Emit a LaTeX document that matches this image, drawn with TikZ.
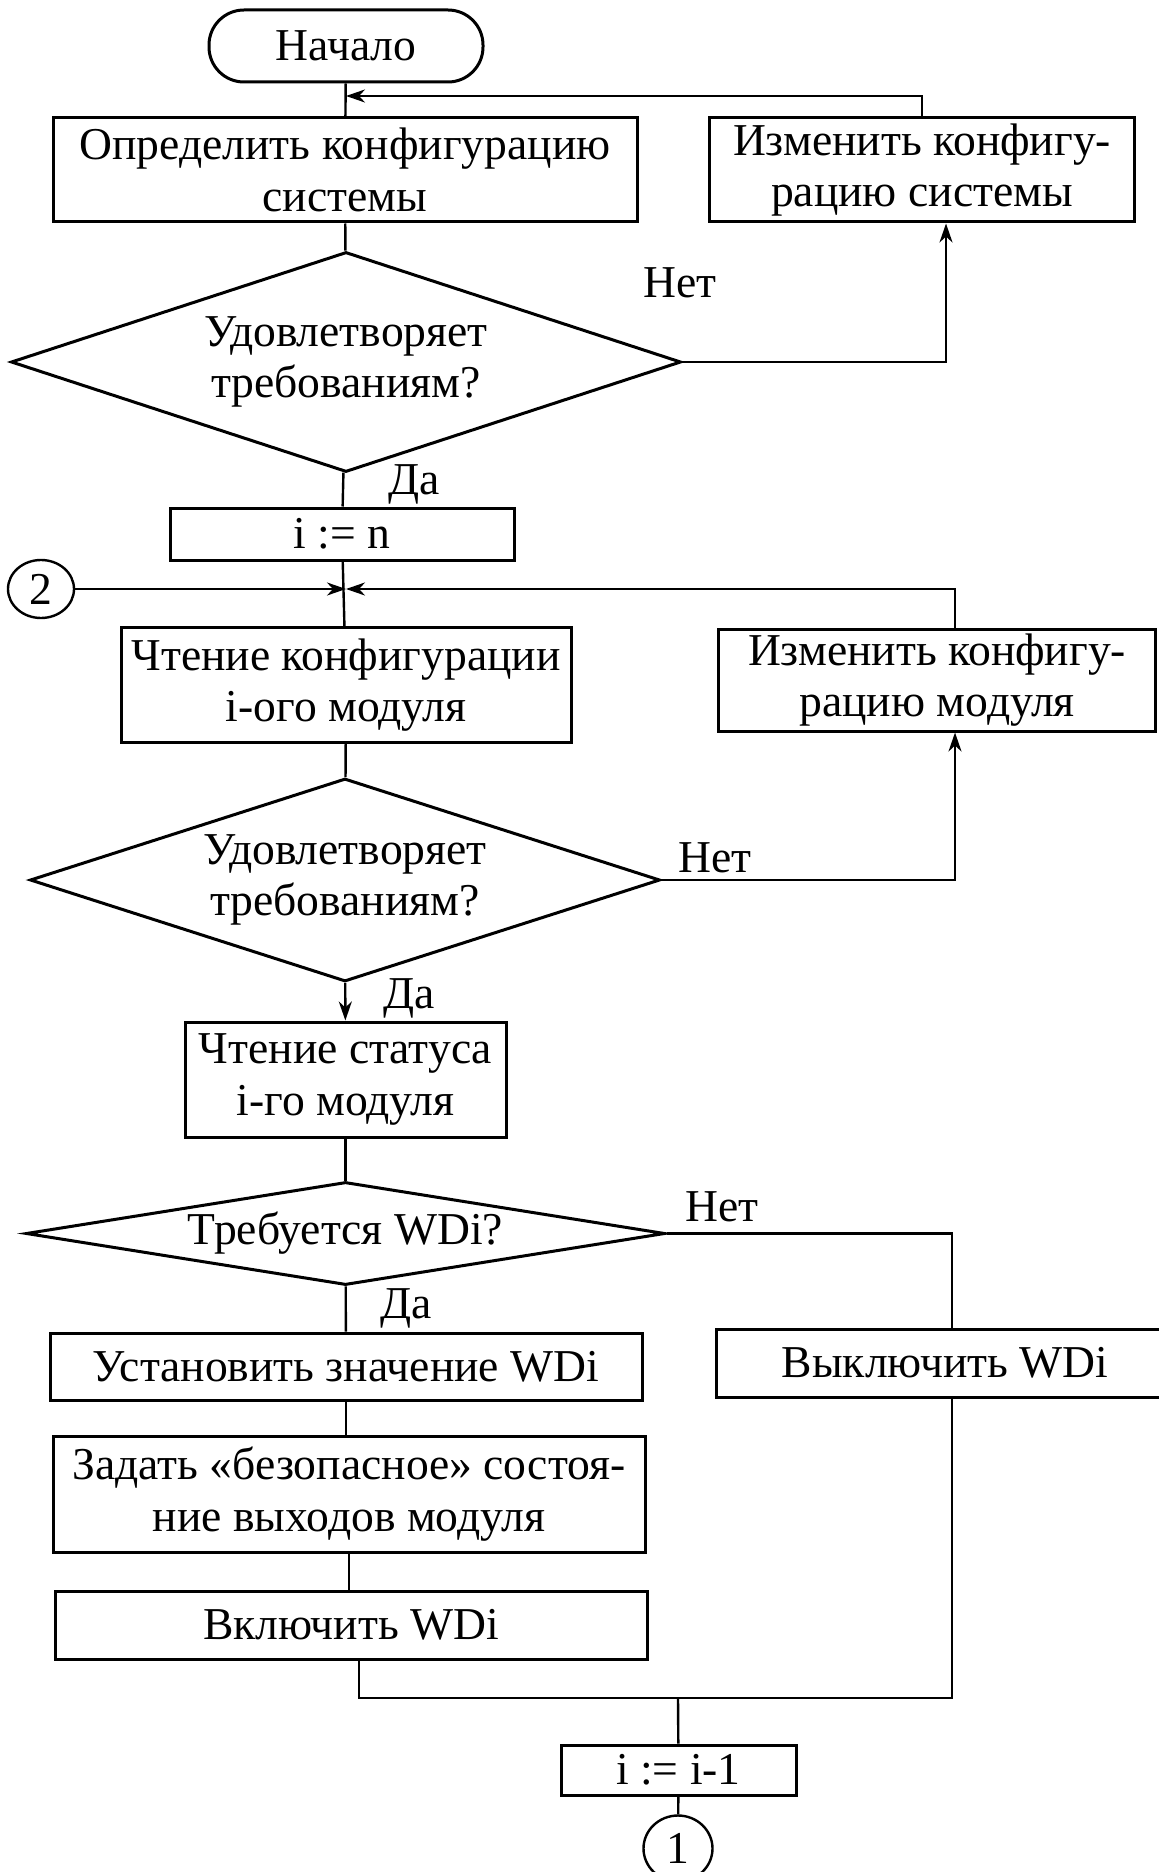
\documentclass[tikz,border=0pt]{standalone}
\usepackage{fontspec}
\setmainfont{Liberation Serif}
\usetikzlibrary{shapes.geometric,arrows.meta}
\begin{document}
\begin{tikzpicture}[x=0.5pt,y=-0.5pt,
  every node/.style={font=\fontsize{22.8}{25.8}\selectfont, inner sep=0pt},
  blk/.style={draw, line width=1.5pt, align=center},
  startbox/.style={blk, rounded corners=17.5pt},
  decide/.style={draw, diamond, line width=1.5pt, align=center, inner sep=0pt},
  joint/.style={draw, ellipse, line width=1.2pt},
  wire/.style={line width=1.2pt},
  arr/.style={wire, -{Stealth[length=9.5pt,width=6.5pt,inset=3pt]}},
]
\useasboundingbox (0,0) rectangle (1158,1872);

% blocks of the flowchart
\node[startbox, minimum width=137pt, minimum height=36pt] (start) at (346,46) {Начало};
\node[blk, minimum width=292pt, minimum height=52pt] (defsys) at (345,170) {Определить конфигурацию\\системы};
\node[blk, minimum width=212.5pt, minimum height=52pt] (chsys) at (922,170) {Изменить конфигу-\\рацию системы};
\node[decide, minimum width=335pt, minimum height=110pt, aspect=3.05] (q1) at (346,362) {Удовлетворяет\\требованиям?};
\node[blk, minimum width=172pt, minimum height=26pt] (init) at (342,534) {i := n};
\node[joint, minimum width=33pt, minimum height=29pt] (c2) at (41,589) {2};
\node[blk, minimum width=225pt, minimum height=57.5pt] (rdcfg) at (346,685) {Чтение конфигурации\\i-ого модуля};
\node[blk, minimum width=218.5pt, minimum height=51pt] (chmod) at (937,680) {Изменить конфигу-\\рацию модуля};
\node[decide, minimum width=315pt, minimum height=101.5pt, aspect=3.1] (q2) at (345,880) {Удовлетворяет\\требованиям?};
\node[blk, minimum width=160.5pt, minimum height=57.5pt] (rdst) at (345.5,1079.5) {Чтение статуса\\i-го модуля};
\node[decide, minimum width=319.5pt, minimum height=51.5pt, aspect=6.2] (q3) at (345.5,1233.5) {Требуется WDi?};
\node[blk, minimum width=296pt, minimum height=33.5pt] (setwd) at (346,1366.5) {Установить значение WDi};
\node[blk, minimum width=229pt, minimum height=34pt] (offwd) at (945,1363) {Выключить WDi};
\node[blk, minimum width=296pt, minimum height=58pt] (safe) at (349,1494) {Задать «безопасное» состоя-\\ние выходов модуля};
\node[blk, minimum width=296pt, minimum height=34pt] (onwd) at (351,1625) {Включить WDi};
\node[blk, minimum width=117.5pt, minimum height=25pt] (decr) at (678.5,1770) {i := i-1};
\node[joint, minimum width=34.5pt, minimum height=33pt] (c1) at (678,1848.5) {1};

% branch labels
\node (no1) at (680,283) {Нет};
\node (yes1) at (414,484) {Да};
\node (no2) at (715,858) {Нет};
\node (yes2) at (409,998) {Да};
\node (no3) at (722,1207) {Нет};
\node (yes3) at (406,1308) {Да};

% junction points
\coordinate (j1) at (346,96);
\coordinate (j2) at (346,589);
\coordinate (m) at (678,1698);

% connectors
\draw[wire] (start) -- (defsys);
\draw[arr] (chsys.north) |- (j1);
\draw[wire] (defsys) -- (q1);
\draw[arr] (q1.east) -| ([xshift=12pt]chsys.south);
\draw[wire] (q1) -- (init);
\draw[wire] (init) -- (rdcfg);
\draw[arr] (c2.east) -- (j2);
\draw[arr] ([xshift=9pt]chmod.north) |- (j2);
\draw[wire] (rdcfg) -- (q2);
\draw[arr] (q2.east) -| ([xshift=9pt]chmod.south);
\draw[arr] (q2) -- (rdst);
\draw[wire] (rdst) -- (q3);
\draw[wire] (q3.east) -| ([xshift=3.5pt]offwd.north);
\draw[wire] (q3) -- (setwd);
\draw[wire] (setwd.south) -- (setwd.south |- safe.north);
\draw[wire] (safe.south) -- (safe.south |- onwd.north);
\draw[wire] ([xshift=4pt]onwd.south) |- (m);
\draw[wire] ([xshift=3.5pt]offwd.south) |- (m);
\draw[wire] (m) -- (decr);
\draw[wire] (decr) -- (c1);
\end{tikzpicture}
\end{document}
